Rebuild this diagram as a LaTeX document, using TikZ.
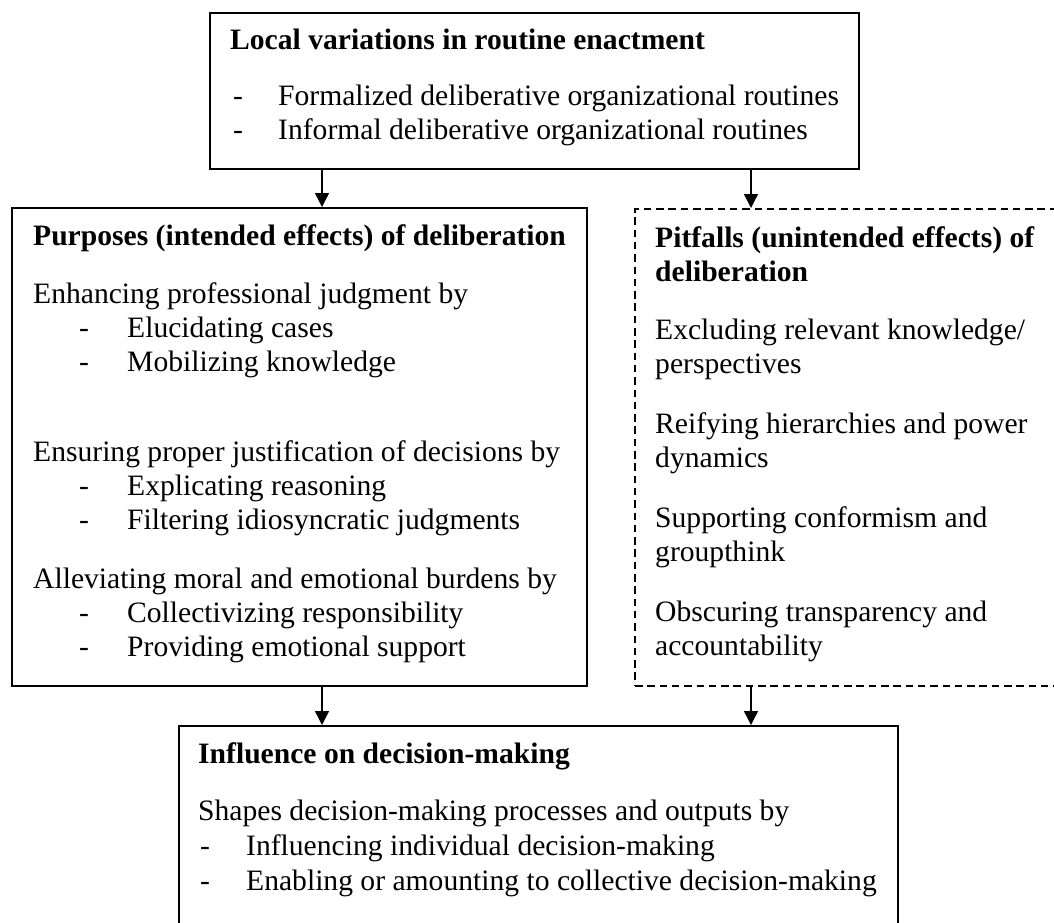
\documentclass[tikz,border=0pt]{standalone}
\usepackage{fontspec}
\setmainfont{Liberation Serif}
\usetikzlibrary{arrows.meta}
\newcommand{\myfs}{\fontsize{29.6}{34}\selectfont}
\begin{document}
\begin{tikzpicture}[x=1pt,y=-1pt,
  box/.style={draw, line width=2pt, inner sep=0pt, anchor=north west},
  dbox/.style={box, dash pattern=on 7.5pt off 4.8pt},
  txt/.style={anchor=base west, inner sep=0pt, font=\myfs},
  arr/.style={-{Triangle[length=14pt,width=14pt]}, line width=1.4pt}]
\useasboundingbox (0,0) rectangle (1054,922);
\clip (0,0) rectangle (1054,922);
% boxes
\node[box, minimum width=649pt, minimum height=156pt] (top) at (209,12) {};
\node[box, minimum width=575pt, minimum height=478pt] (purp) at (11,207) {};
\node[dbox, minimum width=440pt, minimum height=477pt] (pit) at (634,208) {};
\node[box, minimum width=719pt, minimum height=240pt] (infl) at (178,725) {};
\coordinate (c1) at (322,0);
\coordinate (c2) at (751,0);
% connectors
\draw[arr] (top.south -| c1) -- (purp.north -| c1);
\draw[arr] (top.south -| c2) -- (pit.north -| c2);
\draw[arr] (purp.south -| c1) -- (infl.north -| c1);
\draw[arr] (pit.south -| c2) -- (infl.north -| c2);
% top box text
\node[txt] (t0) at (230,49) {\bfseries Local variations in routine enactment};
\node[txt] (t1d) at (233,105) {-};
\node[txt] (t1) at (278,105) {Formalized deliberative organizational routines};
\node[txt] (t2d) at (233,139) {-};
\node[txt] (t2) at (278,139) {Informal deliberative organizational routines};
% purposes text
\node[txt] (p0) at (33,245) {\bfseries Purposes (intended effects) of deliberation};
\node[txt] (p1) at (33,303) {Enhancing professional judgment by};
\node[txt] (p2d) at (79,337) {-};
\node[txt] (p2) at (127,337) {Elucidating cases};
\node[txt] (p3d) at (79,371) {-};
\node[txt] (p3) at (127,371) {Mobilizing knowledge};
\node[txt] (p4) at (33,461) {Ensuring proper justification of decisions by};
\node[txt] (p5d) at (79,495) {-};
\node[txt] (p5) at (127,495) {Explicating reasoning};
\node[txt] (p6d) at (79,529) {-};
\node[txt] (p6) at (127,529) {Filtering idiosyncratic judgments};
\node[txt] (p7) at (33,588) {Alleviating moral and emotional burdens by};
\node[txt] (p8d) at (79,622) {-};
\node[txt] (p8) at (127,622) {Collectivizing responsibility};
\node[txt] (p9d) at (79,656) {-};
\node[txt] (p9) at (127,656) {Providing emotional support};
% pitfalls text
\node[txt] (f0) at (655,247) {\bfseries Pitfalls (unintended effects) of};
\node[txt] (f0b) at (655,281) {\bfseries deliberation};
\node[txt] (f1) at (655,339) {Excluding relevant knowledge/};
\node[txt] (f1b) at (655,373) {perspectives};
\node[txt] (f2) at (655,433) {Reifying hierarchies and power};
\node[txt] (f2b) at (655,467) {dynamics};
\node[txt] (f3) at (655,527) {Supporting conformism and};
\node[txt] (f3b) at (655,561) {groupthink};
\node[txt] (f4) at (655,621) {Obscuring transparency and};
\node[txt] (f4b) at (655,655) {accountability};
% influence text
\node[txt] (i0) at (198,763) {\bfseries Influence on decision-making};
\node[txt] (i1) at (198,820) {Shapes decision-making processes and outputs by};
\node[txt] (i2d) at (200,855) {-};
\node[txt] (i2) at (246,855) {Influencing individual decision-making};
\node[txt] (i3d) at (200,890) {-};
\node[txt] (i3) at (246,890) {Enabling or amounting to collective decision-making};
\end{tikzpicture}
\end{document}
